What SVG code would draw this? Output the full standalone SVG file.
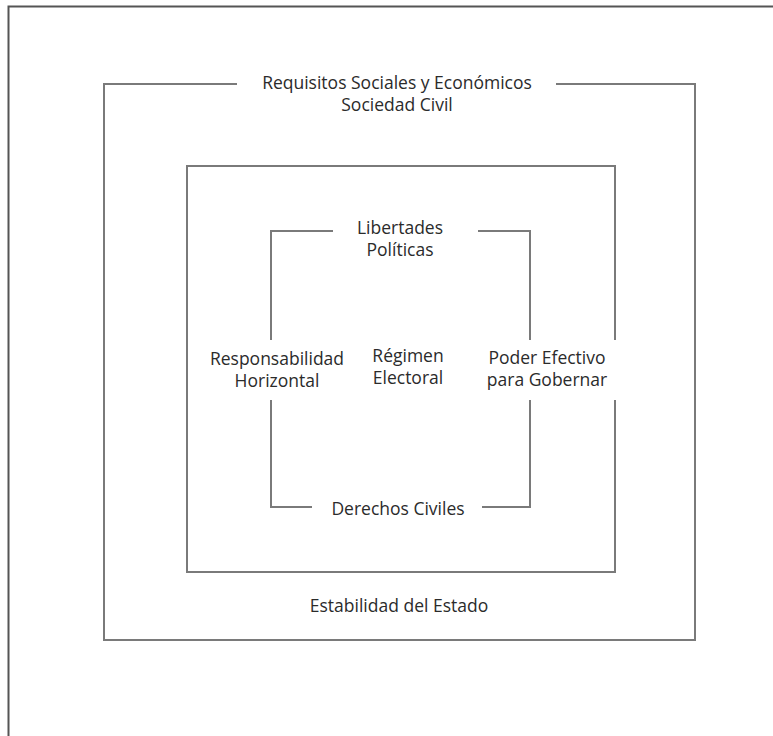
<svg xmlns="http://www.w3.org/2000/svg" width="773" height="736" viewBox="0 0 773 736">
<style>
.frame{fill:none;stroke:#555;stroke-width:2}
.ln{fill:none;stroke:#7a7a7a;stroke-width:2}
text{font-family:"Open Sans","Noto Sans","DejaVu Sans",sans-serif;font-size:17.5px;fill:#2b2b2b;text-anchor:middle}
</style>
<rect x="0" y="0" width="773" height="736" fill="#fff"/>
<path class="frame" d="M8.5,740 V6.5 H780"/>
<g id="connectors">
<path class="ln" d="M237,84 H104 V640 H695 V84 H556"/>
<path class="ln" d="M615,340 V166 H187 V572 H615 V400"/>
<path class="ln" d="M333,231 H271 V340 M271,400 V507 H312 M482,507 H530 V400 M530,340 V231 H478"/>
</g>
<g id="n-requisitos"><text x="397" y="89">Requisitos Sociales y Económicos</text><text x="397" y="111">Sociedad Civil</text></g>
<g id="n-libertades"><text x="400" y="234">Libertades</text><text x="400" y="256">Políticas</text></g>
<g id="n-responsabilidad"><text x="277" y="365">Responsabilidad</text><text x="277" y="387">Horizontal</text></g>
<g id="n-regimen"><text x="408" y="362">Régimen</text><text x="408" y="384">Electoral</text></g>
<g id="n-poder"><text x="547" y="364">Poder Efectivo</text><text x="547" y="386">para Gobernar</text></g>
<g id="n-derechos"><text x="398" y="515">Derechos Civiles</text></g>
<g id="n-estabilidad"><text x="399" y="612">Estabilidad del Estado</text></g>
</svg>
